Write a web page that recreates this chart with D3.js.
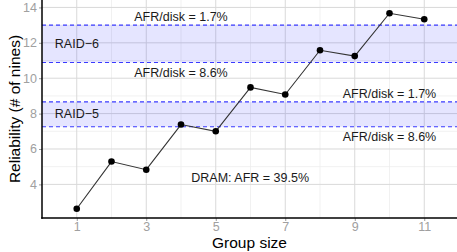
<!DOCTYPE html>
<html>
<head>
<meta charset="utf-8">
<script src="https://cdn.jsdelivr.net/npm/d3@7"></script>
<style>
  body { margin: 0; background: #fff; }
  text { font-family: "Liberation Sans", Arial, sans-serif; }
</style>
</head>
<body>
<div id="chart"></div>
<script>
// Data
const groupSizes = [1, 2, 3, 4, 5, 6, 7, 8, 9, 10, 11];
const nines = [2.62, 5.29, 4.83, 7.38, 7.0, 9.48, 9.08, 11.58, 11.25, 13.67, 13.33];
const xTicks = [1, 3, 5, 7, 9, 11];
const xMinor = [2, 4, 6, 8, 10];
const yTicks = [4, 6, 8, 10, 12, 14];
const yMinor = [5, 7, 9, 11, 13];
const bandNames = ["RAID\u22126", "RAID\u22125"];
const bandLow = [10.89, 7.26];
const bandHigh = [13.0, 8.66];

const width = 457, height = 252;
const margin = { top: 0, right: 0, bottom: 34, left: 42 };

const svg = d3.select("#chart")
  .append("svg")
  .attr("width", width)
  .attr("height", height);

const x = d3.scaleLinear().domain([0, 12]).range([margin.left, 459]);
const y = d3.scaleLinear().domain([2.1, 14.42]).range([height - margin.bottom, margin.top]);

const plot = svg.append("g");

// grid
plot.selectAll(".gxm").data(xMinor).enter().append("line")
  .attr("x1", d => x(d)).attr("x2", d => x(d))
  .attr("y1", y.range()[1]).attr("y2", y.range()[0])
  .attr("stroke", "#ededed").attr("stroke-width", 0.8);
plot.selectAll(".gym").data(yMinor).enter().append("line")
  .attr("x1", margin.left).attr("x2", width)
  .attr("y1", d => y(d)).attr("y2", d => y(d))
  .attr("stroke", "#ededed").attr("stroke-width", 0.8);
plot.selectAll(".gx").data(xTicks).enter().append("line")
  .attr("x1", d => x(d)).attr("x2", d => x(d))
  .attr("y1", y.range()[1]).attr("y2", y.range()[0])
  .attr("stroke", "#d9d9d9").attr("stroke-width", 1);
plot.selectAll(".gy").data(yTicks).enter().append("line")
  .attr("x1", margin.left).attr("x2", width)
  .attr("y1", d => y(d)).attr("y2", d => y(d))
  .attr("stroke", "#d9d9d9").attr("stroke-width", 1);

// RAID bands
plot.selectAll(".band").data(bandNames).enter().append("rect")
  .attr("x", margin.left)
  .attr("width", width - margin.left)
  .attr("y", (d, i) => y(bandHigh[i]))
  .attr("height", (d, i) => y(bandLow[i]) - y(bandHigh[i]))
  .attr("fill", "#0000ff").attr("fill-opacity", 0.1);

const edges = bandLow.concat(bandHigh);
plot.selectAll(".edge").data(edges).enter().append("line")
  .attr("x1", margin.left).attr("x2", width)
  .attr("y1", d => y(d)).attr("y2", d => y(d))
  .attr("stroke", "#3a3aff").attr("stroke-width", 1.1)
  .attr("stroke-dasharray", "4,3");

// labels
plot.selectAll(".bandlabel").data(bandNames).enter().append("text")
  .attr("x", x(0.37))
  .attr("y", (d, i) => y((bandLow[i] + bandHigh[i]) / 2))
  .attr("dominant-baseline", "central")
  .attr("font-size", "12.5px").attr("fill", "#1a1a1a")
  .text(d => d);

const notes = [
  ["AFR/disk = 1.7%", 4.0, 13.46],
  ["AFR/disk = 8.6%", 4.0, 10.29],
  ["AFR/disk = 1.7%", 10.0, 9.08],
  ["AFR/disk = 8.6%", 10.0, 6.68],
  ["DRAM: AFR = 39.5%", 5.99, 4.36]
];
plot.selectAll(".note").data(notes).enter().append("text")
  .attr("x", d => x(d[1]))
  .attr("y", d => y(d[2]))
  .attr("text-anchor", "middle")
  .attr("dominant-baseline", "central")
  .attr("font-size", "12.5px").attr("fill", "#1a1a1a")
  .text(d => d[0]);

// series
const line = d3.line().x((d, i) => x(groupSizes[i])).y(d => y(d));
plot.append("path")
  .datum(nines)
  .attr("d", line)
  .attr("fill", "none")
  .attr("stroke", "#333")
  .attr("stroke-width", 1.1);

plot.selectAll(".pt").data(nines).enter().append("circle")
  .attr("cx", (d, i) => x(groupSizes[i]))
  .attr("cy", d => y(d))
  .attr("r", 3.3)
  .attr("fill", "#000");

// axes
const xAxis = svg.append("g")
  .attr("transform", "translate(0," + y.range()[0] + ")")
  .call(d3.axisBottom(x).tickValues(xTicks).tickSize(3).tickPadding(1.5).tickFormat(d3.format("d")));
const yAxis = svg.append("g")
  .attr("transform", "translate(" + margin.left + ",0)")
  .call(d3.axisLeft(y).tickValues(yTicks).tickSize(3).tickPadding(2).tickFormat(d3.format("d")));

[xAxis, yAxis].forEach(a => {
  a.select(".domain").remove();
  a.selectAll(".tick line").attr("stroke", "#999");
  a.selectAll(".tick text")
    .attr("fill", "#a0a0a0")
    .style("font-family", "'Liberation Sans', Arial, sans-serif")
    .style("font-size", "12.5px");
});

svg.append("line")
  .attr("x1", margin.left).attr("x2", margin.left)
  .attr("y1", y.range()[1]).attr("y2", y.range()[0] + 0.75)
  .attr("stroke", "#000").attr("stroke-width", 1.5);
svg.append("line")
  .attr("x1", margin.left - 0.75).attr("x2", width)
  .attr("y1", y.range()[0]).attr("y2", y.range()[0])
  .attr("stroke", "#000").attr("stroke-width", 1.5);

// titles
svg.append("text")
  .attr("x", (margin.left + width) / 2)
  .attr("y", 248)
  .attr("text-anchor", "middle")
  .attr("font-size", "15.5px")
  .attr("fill", "#000")
  .text("Group size");

svg.append("text")
  .attr("transform", "translate(14," + (y.range()[0] / 2) + ") rotate(-90)")
  .attr("text-anchor", "middle")
  .attr("dominant-baseline", "central")
  .attr("font-size", "15.5px")
  .attr("fill", "#000")
  .text("Reliability (# of nines)");
</script>
</body>
</html>
